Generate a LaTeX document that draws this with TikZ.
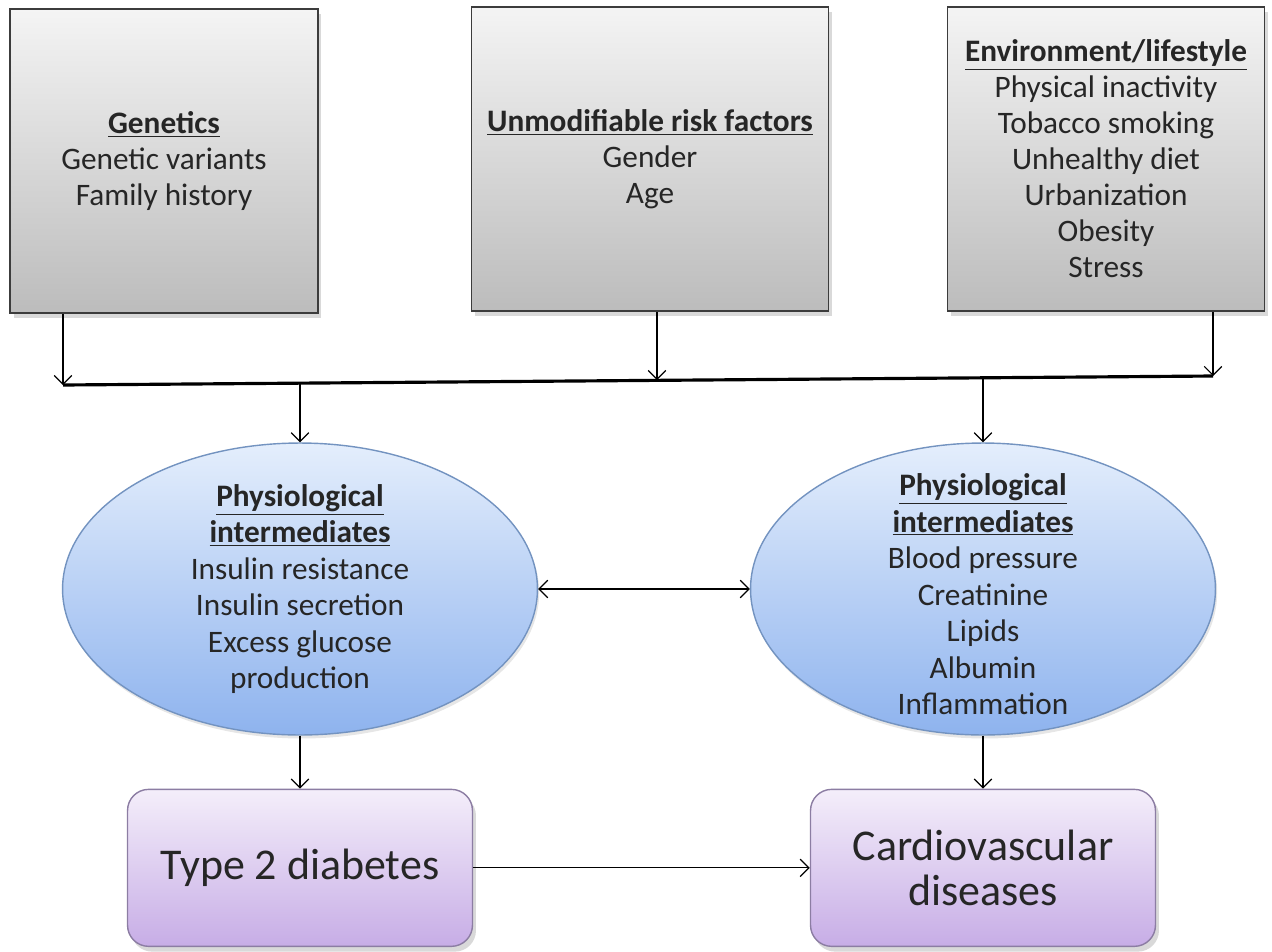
\documentclass[tikz,border=0pt]{standalone}
\usepackage{fontspec}
\setmainfont{Carlito}
\usepackage{tikz}
\usetikzlibrary{arrows.meta,positioning,shadows,shapes.geometric}
\definecolor{grayline}{HTML}{3C3C3C}
\definecolor{graytop}{HTML}{F4F4F4}
\definecolor{graybot}{HTML}{BCBCBC}
\definecolor{blueline}{HTML}{7393C0}
\definecolor{bluetop}{HTML}{E4EEFC}
\definecolor{bluebot}{HTML}{8EB3EE}
\definecolor{purpline}{HTML}{8C7DA3}
\definecolor{purptop}{HTML}{F4EEFA}
\definecolor{purpbot}{HTML}{C7ADE6}
\definecolor{txt}{HTML}{262626}

\begin{document}
\begin{tikzpicture}[x=0.02cm, y=-0.02cm, >={Straight Barb[length=5pt,width=10pt]},
    factor/.style={rectangle, draw=grayline, line width=1pt, top color=graytop, bottom color=graybot, minimum height=6.08cm, align=center, text=txt, font=\fontsize{17.8}{20.5}\selectfont, drop shadow={shadow xshift=2pt, shadow yshift=-3pt, opacity=0.3}},
    physio/.style={ellipse, draw=blueline, line width=0.8pt, top color=bluetop, bottom color=bluebot, minimum height=5.84cm, inner sep=0pt, drop shadow={shadow xshift=1pt, shadow yshift=-2pt, opacity=0.2}},
    phystext/.style={align=center, text=txt, font=\fontsize{17.8}{20.8}\selectfont},
    outcome/.style={rectangle, rounded corners=12pt, draw=purpline, line width=0.8pt, top color=purptop, bottom color=purpbot, minimum width=6.9cm, minimum height=3.14cm, align=center, text=txt, font=\fontsize{25}{25.5}\selectfont, drop shadow={shadow xshift=2pt, shadow yshift=-3pt, opacity=0.3}},
    link/.style={->, line width=0.7pt},
    bus/.style={line width=1.8pt}]
    \useasboundingbox (0,0) rectangle (1272,951);

    \node [factor, minimum width=6.16cm] (gen) at (164,161) {\underline{\textbf{Genetics}}\\Genetic variants\\Family history};
    \node [factor, minimum width=7.14cm] (unmod) at (650,159) {\underline{\textbf{Unmodifiable risk factors}}\\Gender\\Age};
    \node [factor, minimum width=6.34cm] (env) at (1106,159) {\underline{\textbf{Environment/lifestyle}}\\Physical inactivity\\Tobacco smoking\\Unhealthy diet\\Urbanization\\Obesity\\Stress};

    \coordinate (b1) at (63,385);
    \coordinate (b2) at (657,380);
    \coordinate (b3) at (1213,376);
    \coordinate (t1) at (300,383);
    \coordinate (t2) at (983,378);

    \node [physio, minimum width=9.5cm, label={[phystext]center:\underline{\textbf{Physiological}}\\\underline{\textbf{intermediates}}\\Insulin resistance\\Insulin secretion\\Excess glucose\\production}] (dm) at (300,589) {};
    \node [physio, minimum width=9.3cm, label={[phystext, yshift=-3pt]center:\underline{\textbf{Physiological}}\\\underline{\textbf{intermediates}}\\Blood pressure\\Creatinine\\Lipids\\Albumin\\Inflammation}] (cv) at (983,589) {};

    \node [outcome, below=1.06cm of dm] (t2d) {Type 2 diabetes};
    \node [outcome, below=1.06cm of cv] (cvd) {Cardiovascular\\diseases};

    \draw [link] (gen.south -| b1) -- (b1);
    \draw [link] (unmod.south -| b2) -- (b2);
    \draw [link] (env.south -| b3) -- (b3);
    \draw [bus] (b1) -- (b3);
    \draw [link] (t1) -- (dm.north);
    \draw [link] (t2) -- (cv.north);
    \draw [link, <->] (dm.east) -- (cv.west);
    \draw [link] (dm.south) -- (t2d.north);
    \draw [link] (cv.south) -- (cvd.north);
    \draw [link] (t2d) -- (cvd);
\end{tikzpicture}
\end{document}
